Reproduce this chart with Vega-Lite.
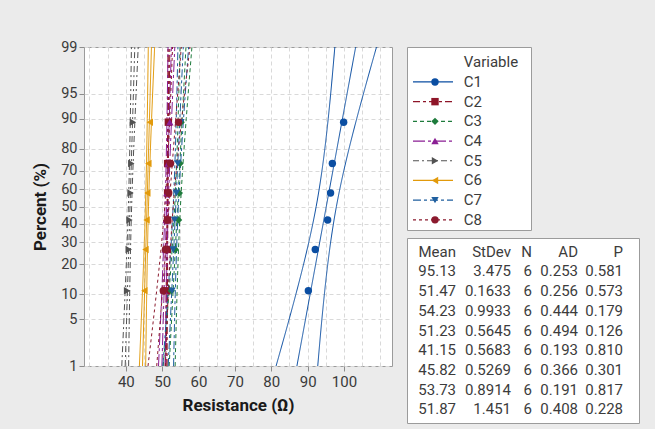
{
  "$schema": "https://vega.github.io/schema/vega-lite/v6.json",
  "background": "#EBEBEB",
  "autosize": {"type": "pad"},
  "padding": {"left": 31, "top": 38, "right": 16, "bottom": 7},
  "config": {
    "font": "Roboto",
    "view": {"stroke": "#9B9B9B", "fill": "white"},
    "axis": {
      "labelFont": "Roboto", "labelFontSize": 15, "labelColor": "#3A3A3A",
      "titleFont": "Roboto", "titleFontSize": 17, "titleFontWeight": "bold", "titleColor": "#1A1A1A",
      "tickColor": "#8C8C8C", "domain": false, "gridColor": "#D9D9D9", "gridDash": [4, 3],
      "labelOverlap": false, "labelFlush": false, "labelBound": false
    },
    "text": {"font": "Roboto", "fontSize": 15, "fill": "#3C3C3C"}
  },
  "datasets": {
    "points": [
      {"variable": "C1", "normal_score": -1.2298, "resistance": 90.2},
      {"variable": "C1", "normal_score": -0.626, "resistance": 92.1},
      {"variable": "C1", "normal_score": -0.1967, "resistance": 95.5},
      {"variable": "C1", "normal_score": 0.1967, "resistance": 96.3},
      {"variable": "C1", "normal_score": 0.626, "resistance": 96.8},
      {"variable": "C1", "normal_score": 1.2298, "resistance": 99.9},
      {"variable": "C2", "normal_score": -1.2298, "resistance": 51.2},
      {"variable": "C2", "normal_score": -0.626, "resistance": 51.4},
      {"variable": "C2", "normal_score": -0.1967, "resistance": 51.5},
      {"variable": "C2", "normal_score": 0.1967, "resistance": 51.5},
      {"variable": "C2", "normal_score": 0.626, "resistance": 51.5},
      {"variable": "C2", "normal_score": 1.2298, "resistance": 51.7},
      {"variable": "C3", "normal_score": -1.2298, "resistance": 52.5},
      {"variable": "C3", "normal_score": -0.626, "resistance": 53.6},
      {"variable": "C3", "normal_score": -0.1967, "resistance": 54.5},
      {"variable": "C3", "normal_score": 0.1967, "resistance": 54.7},
      {"variable": "C3", "normal_score": 0.626, "resistance": 54.9},
      {"variable": "C3", "normal_score": 1.2298, "resistance": 55.2},
      {"variable": "C4", "normal_score": -1.2298, "resistance": 50.5},
      {"variable": "C4", "normal_score": -0.626, "resistance": 50.8},
      {"variable": "C4", "normal_score": -0.1967, "resistance": 51.1},
      {"variable": "C4", "normal_score": 0.1967, "resistance": 51.3},
      {"variable": "C4", "normal_score": 0.626, "resistance": 51.6},
      {"variable": "C4", "normal_score": 1.2298, "resistance": 52.1},
      {"variable": "C5", "normal_score": -1.2298, "resistance": 40.35},
      {"variable": "C5", "normal_score": -0.626, "resistance": 40.8},
      {"variable": "C5", "normal_score": -0.1967, "resistance": 41.0},
      {"variable": "C5", "normal_score": 0.1967, "resistance": 41.3},
      {"variable": "C5", "normal_score": 0.626, "resistance": 41.5},
      {"variable": "C5", "normal_score": 1.2298, "resistance": 41.95},
      {"variable": "C6", "normal_score": -1.2298, "resistance": 45.1},
      {"variable": "C6", "normal_score": -0.626, "resistance": 45.4},
      {"variable": "C6", "normal_score": -0.1967, "resistance": 45.7},
      {"variable": "C6", "normal_score": 0.1967, "resistance": 45.9},
      {"variable": "C6", "normal_score": 0.626, "resistance": 46.2},
      {"variable": "C6", "normal_score": 1.2298, "resistance": 46.6},
      {"variable": "C7", "normal_score": -1.2298, "resistance": 52.7},
      {"variable": "C7", "normal_score": -0.626, "resistance": 53.0},
      {"variable": "C7", "normal_score": -0.1967, "resistance": 53.4},
      {"variable": "C7", "normal_score": 0.1967, "resistance": 53.9},
      {"variable": "C7", "normal_score": 0.626, "resistance": 54.3},
      {"variable": "C7", "normal_score": 1.2298, "resistance": 55.1},
      {"variable": "C8", "normal_score": -1.2298, "resistance": 50.3},
      {"variable": "C8", "normal_score": -0.626, "resistance": 50.9},
      {"variable": "C8", "normal_score": -0.1967, "resistance": 51.4},
      {"variable": "C8", "normal_score": 0.1967, "resistance": 51.8},
      {"variable": "C8", "normal_score": 0.626, "resistance": 52.3},
      {"variable": "C8", "normal_score": 1.2298, "resistance": 54.5}
    ],
    "curves": [
      {"variable": "C1", "curve": "lower", "normal_score": -2.3263, "resistance": 81.32},
      {"variable": "C1", "curve": "lower", "normal_score": -1.2816, "resistance": 86.76},
      {"variable": "C1", "curve": "lower", "normal_score": 0, "resistance": 92.35},
      {"variable": "C1", "curve": "lower", "normal_score": 1.2816, "resistance": 95.66},
      {"variable": "C1", "curve": "lower", "normal_score": 2.3263, "resistance": 97.48},
      {"variable": "C1", "curve": "fit", "normal_score": -2.3263, "resistance": 87.05},
      {"variable": "C1", "curve": "fit", "normal_score": 2.3263, "resistance": 103.21},
      {"variable": "C1", "curve": "upper", "normal_score": -2.3263, "resistance": 92.78},
      {"variable": "C1", "curve": "upper", "normal_score": -1.2816, "resistance": 94.6},
      {"variable": "C1", "curve": "upper", "normal_score": 0, "resistance": 97.91},
      {"variable": "C1", "curve": "upper", "normal_score": 1.2816, "resistance": 103.5},
      {"variable": "C1", "curve": "upper", "normal_score": 2.3263, "resistance": 108.94},
      {"variable": "C2", "curve": "lower", "normal_score": -2.3263, "resistance": 50.82},
      {"variable": "C2", "curve": "lower", "normal_score": -1.2816, "resistance": 51.08},
      {"variable": "C2", "curve": "lower", "normal_score": 0, "resistance": 51.34},
      {"variable": "C2", "curve": "lower", "normal_score": 1.2816, "resistance": 51.5},
      {"variable": "C2", "curve": "lower", "normal_score": 2.3263, "resistance": 51.58},
      {"variable": "C2", "curve": "fit", "normal_score": -2.3263, "resistance": 51.09},
      {"variable": "C2", "curve": "fit", "normal_score": 2.3263, "resistance": 51.85},
      {"variable": "C2", "curve": "upper", "normal_score": -2.3263, "resistance": 51.36},
      {"variable": "C2", "curve": "upper", "normal_score": -1.2816, "resistance": 51.44},
      {"variable": "C2", "curve": "upper", "normal_score": 0, "resistance": 51.6},
      {"variable": "C2", "curve": "upper", "normal_score": 1.2816, "resistance": 51.86},
      {"variable": "C2", "curve": "upper", "normal_score": 2.3263, "resistance": 52.12},
      {"variable": "C3", "curve": "lower", "normal_score": -2.3263, "resistance": 50.28},
      {"variable": "C3", "curve": "lower", "normal_score": -1.2816, "resistance": 51.84},
      {"variable": "C3", "curve": "lower", "normal_score": 0, "resistance": 53.44},
      {"variable": "C3", "curve": "lower", "normal_score": 1.2816, "resistance": 54.38},
      {"variable": "C3", "curve": "lower", "normal_score": 2.3263, "resistance": 54.9},
      {"variable": "C3", "curve": "fit", "normal_score": -2.3263, "resistance": 51.92},
      {"variable": "C3", "curve": "fit", "normal_score": 2.3263, "resistance": 56.54},
      {"variable": "C3", "curve": "upper", "normal_score": -2.3263, "resistance": 53.56},
      {"variable": "C3", "curve": "upper", "normal_score": -1.2816, "resistance": 54.08},
      {"variable": "C3", "curve": "upper", "normal_score": 0, "resistance": 55.02},
      {"variable": "C3", "curve": "upper", "normal_score": 1.2816, "resistance": 56.62},
      {"variable": "C3", "curve": "upper", "normal_score": 2.3263, "resistance": 58.18},
      {"variable": "C4", "curve": "lower", "normal_score": -2.3263, "resistance": 48.99},
      {"variable": "C4", "curve": "lower", "normal_score": -1.2816, "resistance": 49.87},
      {"variable": "C4", "curve": "lower", "normal_score": 0, "resistance": 50.78},
      {"variable": "C4", "curve": "lower", "normal_score": 1.2816, "resistance": 51.32},
      {"variable": "C4", "curve": "lower", "normal_score": 2.3263, "resistance": 51.61},
      {"variable": "C4", "curve": "fit", "normal_score": -2.3263, "resistance": 49.92},
      {"variable": "C4", "curve": "fit", "normal_score": 2.3263, "resistance": 52.54},
      {"variable": "C4", "curve": "upper", "normal_score": -2.3263, "resistance": 50.85},
      {"variable": "C4", "curve": "upper", "normal_score": -1.2816, "resistance": 51.14},
      {"variable": "C4", "curve": "upper", "normal_score": 0, "resistance": 51.68},
      {"variable": "C4", "curve": "upper", "normal_score": 1.2816, "resistance": 52.59},
      {"variable": "C4", "curve": "upper", "normal_score": 2.3263, "resistance": 53.47},
      {"variable": "C5", "curve": "lower", "normal_score": -2.3263, "resistance": 38.89},
      {"variable": "C5", "curve": "lower", "normal_score": -1.2816, "resistance": 39.78},
      {"variable": "C5", "curve": "lower", "normal_score": 0, "resistance": 40.7},
      {"variable": "C5", "curve": "lower", "normal_score": 1.2816, "resistance": 41.24},
      {"variable": "C5", "curve": "lower", "normal_score": 2.3263, "resistance": 41.54},
      {"variable": "C5", "curve": "fit", "normal_score": -2.3263, "resistance": 39.83},
      {"variable": "C5", "curve": "fit", "normal_score": 2.3263, "resistance": 42.47},
      {"variable": "C5", "curve": "upper", "normal_score": -2.3263, "resistance": 40.77},
      {"variable": "C5", "curve": "upper", "normal_score": -1.2816, "resistance": 41.06},
      {"variable": "C5", "curve": "upper", "normal_score": 0, "resistance": 41.6},
      {"variable": "C5", "curve": "upper", "normal_score": 1.2816, "resistance": 42.52},
      {"variable": "C5", "curve": "upper", "normal_score": 2.3263, "resistance": 43.41},
      {"variable": "C6", "curve": "lower", "normal_score": -2.3263, "resistance": 43.73},
      {"variable": "C6", "curve": "lower", "normal_score": -1.2816, "resistance": 44.55},
      {"variable": "C6", "curve": "lower", "normal_score": 0, "resistance": 45.4},
      {"variable": "C6", "curve": "lower", "normal_score": 1.2816, "resistance": 45.9},
      {"variable": "C6", "curve": "lower", "normal_score": 2.3263, "resistance": 46.18},
      {"variable": "C6", "curve": "fit", "normal_score": -2.3263, "resistance": 44.59},
      {"variable": "C6", "curve": "fit", "normal_score": 2.3263, "resistance": 47.05},
      {"variable": "C6", "curve": "upper", "normal_score": -2.3263, "resistance": 45.46},
      {"variable": "C6", "curve": "upper", "normal_score": -1.2816, "resistance": 45.74},
      {"variable": "C6", "curve": "upper", "normal_score": 0, "resistance": 46.24},
      {"variable": "C6", "curve": "upper", "normal_score": 1.2816, "resistance": 47.09},
      {"variable": "C6", "curve": "upper", "normal_score": 2.3263, "resistance": 47.92},
      {"variable": "C7", "curve": "lower", "normal_score": -2.3263, "resistance": 50.19},
      {"variable": "C7", "curve": "lower", "normal_score": -1.2816, "resistance": 51.58},
      {"variable": "C7", "curve": "lower", "normal_score": 0, "resistance": 53.02},
      {"variable": "C7", "curve": "lower", "normal_score": 1.2816, "resistance": 53.87},
      {"variable": "C7", "curve": "lower", "normal_score": 2.3263, "resistance": 54.33},
      {"variable": "C7", "curve": "fit", "normal_score": -2.3263, "resistance": 51.66},
      {"variable": "C7", "curve": "fit", "normal_score": 2.3263, "resistance": 55.8},
      {"variable": "C7", "curve": "upper", "normal_score": -2.3263, "resistance": 53.13},
      {"variable": "C7", "curve": "upper", "normal_score": -1.2816, "resistance": 53.59},
      {"variable": "C7", "curve": "upper", "normal_score": 0, "resistance": 54.44},
      {"variable": "C7", "curve": "upper", "normal_score": 1.2816, "resistance": 55.88},
      {"variable": "C7", "curve": "upper", "normal_score": 2.3263, "resistance": 57.27},
      {"variable": "C8", "curve": "lower", "normal_score": -2.3263, "resistance": 46.1},
      {"variable": "C8", "curve": "lower", "normal_score": -1.2816, "resistance": 48.37},
      {"variable": "C8", "curve": "lower", "normal_score": 0, "resistance": 50.71},
      {"variable": "C8", "curve": "lower", "normal_score": 1.2816, "resistance": 52.09},
      {"variable": "C8", "curve": "lower", "normal_score": 2.3263, "resistance": 52.85},
      {"variable": "C8", "curve": "fit", "normal_score": -2.3263, "resistance": 48.5},
      {"variable": "C8", "curve": "fit", "normal_score": 2.3263, "resistance": 55.25},
      {"variable": "C8", "curve": "upper", "normal_score": -2.3263, "resistance": 50.89},
      {"variable": "C8", "curve": "upper", "normal_score": -1.2816, "resistance": 51.65},
      {"variable": "C8", "curve": "upper", "normal_score": 0, "resistance": 53.03},
      {"variable": "C8", "curve": "upper", "normal_score": 1.2816, "resistance": 55.37},
      {"variable": "C8", "curve": "upper", "normal_score": 2.3263, "resistance": 57.64}
    ],
    "stats": [
      {"variable": "C1", "Mean": 95.13, "StDev": 3.475, "N": 6, "AD": 0.253, "P": 0.581},
      {"variable": "C2", "Mean": 51.47, "StDev": 0.1633, "N": 6, "AD": 0.256, "P": 0.573},
      {"variable": "C3", "Mean": 54.23, "StDev": 0.9933, "N": 6, "AD": 0.444, "P": 0.179},
      {"variable": "C4", "Mean": 51.23, "StDev": 0.5645, "N": 6, "AD": 0.494, "P": 0.126},
      {"variable": "C5", "Mean": 41.15, "StDev": 0.5683, "N": 6, "AD": 0.193, "P": 0.81},
      {"variable": "C6", "Mean": 45.82, "StDev": 0.5269, "N": 6, "AD": 0.366, "P": 0.301},
      {"variable": "C7", "Mean": 53.73, "StDev": 0.8914, "N": 6, "AD": 0.191, "P": 0.817},
      {"variable": "C8", "Mean": 51.87, "StDev": 1.451, "N": 6, "AD": 0.408, "P": 0.228}
    ]
  },
  "bounds": "flush",
  "spacing": 15,
  "resolve": {"scale": {"x": "independent", "y": "independent", "color": "independent", "shape": "independent", "strokeDash": "independent"}},
  "hconcat": [
    {
      "width": 308,
      "height": 319,
      "layer": [
        {
          "data": {"name": "curves"},
          "mark": {"type": "line", "strokeWidth": 1, "interpolate": "natural", "clip": true},
          "encoding": {
            "x": {
              "field": "resistance", "type": "quantitative",
              "scale": {"domain": [28.5, 113.2], "nice": false, "zero": false},
              "title": "Resistance (Ω)",
              "axis": {
                "values": [30, 35, 40, 45, 50, 55, 60, 65, 70, 75, 80, 85, 90, 95, 100, 105, 110],
                "tickCount": 40,
                "labelExpr": "(datum.value % 10 == 0 && datum.value >= 40 && datum.value <= 100) ? datum.label : ''",
                "tickOpacity": {"condition": {"test": "datum.value % 10 == 0 && datum.value >= 40 && datum.value <= 100", "value": 1}, "value": 0},
                "tickSize": 5, "labelPadding": 3, "titlePadding": 8, "grid": true, "labelFlush": false, "labelOverlap": false
              }
            },
            "y": {
              "field": "normal_score", "type": "quantitative",
              "scale": {"domain": [-2.3263, 2.3263], "nice": false, "zero": false},
              "title": "Percent (%)",
              "axis": {
                "values": [-2.3263, -1.6449, -1.2816, -0.8416, -0.5244, -0.2533, 0, 0.2533, 0.5244, 0.8416, 1.2816, 1.6449, 2.3263],
                "tickCount": 40,
                "labelExpr": "format(cumulativeNormal(datum.value) * 100, '.0f')",
                "labelFontSize": 14.5,
                "tickSize": 5, "labelPadding": 2, "titlePadding": 11, "grid": true, "labelOverlap": false, "labelFlush": false
              }
            },
            "color": {
              "field": "variable", "type": "nominal", "legend": null,
              "scale": {"domain": ["C1", "C2", "C3", "C4", "C5", "C6", "C7", "C8"], "range": ["#0B4EA2", "#8E1528", "#1E7B3C", "#8A1E94", "#525252", "#E29A0B", "#1F5F9F", "#8B1A2E"]}
            },
            "strokeDash": {
              "field": "variable", "type": "nominal", "legend": null,
              "scale": {"domain": ["C1", "C2", "C3", "C4", "C5", "C6", "C7", "C8"], "range": [[1, 0], [7, 3, 3, 3], [4, 3], [12, 3, 3, 3], [6, 3, 2, 3], [1, 0], [8, 3, 3, 3], [3, 3]]}
            },
            "detail": {"field": "curve"},
            "order": {"field": "normal_score", "type": "quantitative"}
          }
        },
        {
          "data": {"name": "points"},
          "mark": {"type": "point", "filled": true, "size": 55, "opacity": 1},
          "encoding": {
            "x": {"field": "resistance", "type": "quantitative"},
            "y": {"field": "normal_score", "type": "quantitative"},
            "color": {"field": "variable", "type": "nominal", "legend": null},
            "shape": {
              "field": "variable", "type": "nominal", "legend": null,
              "scale": {"domain": ["C1", "C2", "C3", "C4", "C5", "C6", "C7", "C8"], "range": ["circle", "square", "diamond", "triangle-up", "triangle-right", "triangle-left", "triangle-down", "circle"]}
            }
          }
        }
      ]
    },
    {
      "bounds": "flush",
      "spacing": 8,
      "resolve": {"scale": {"x": "independent", "y": "independent", "color": "independent", "shape": "independent", "strokeDash": "independent"}},
      "vconcat": [
        {
          "width": 124,
          "height": 183,
          "data": {"name": "stats"},
          "layer": [
            {
              "mark": {"type": "rule", "strokeWidth": 1.2},
              "encoding": {
                "x": {"datum": 0, "type": "quantitative", "scale": {"domain": [-0.15, 2.95], "nice": false, "zero": false}, "axis": null},
                "x2": {"datum": 1},
                "y": {"field": "variable", "type": "nominal", "axis": null,
                      "scale": {"type": "point", "domain": ["Variable", "C1", "C2", "C3", "C4", "C5", "C6", "C7", "C8"], "padding": 0.645, "align": 0.6}},
                "color": {
                  "field": "variable", "type": "nominal", "legend": null,
                  "scale": {"domain": ["C1", "C2", "C3", "C4", "C5", "C6", "C7", "C8"], "range": ["#0B4EA2", "#8E1528", "#1E7B3C", "#8A1E94", "#525252", "#E29A0B", "#1F5F9F", "#8B1A2E"]}
                },
                "strokeDash": {
                  "field": "variable", "type": "nominal", "legend": null,
                  "scale": {"domain": ["C1", "C2", "C3", "C4", "C5", "C6", "C7", "C8"], "range": [[1, 0], [7, 3, 3, 3], [4, 3], [12, 3, 3, 3], [6, 3, 2, 3], [1, 0], [8, 3, 3, 3], [3, 3]]}
                }
              }
            },
            {
              "mark": {"type": "point", "filled": true, "size": 55, "opacity": 1},
              "encoding": {
                "x": {"datum": 0.55, "type": "quantitative"},
                "y": {"field": "variable", "type": "nominal"},
                "color": {"field": "variable", "type": "nominal", "legend": null},
                "shape": {
                  "field": "variable", "type": "nominal", "legend": null,
                  "scale": {"domain": ["C1", "C2", "C3", "C4", "C5", "C6", "C7", "C8"], "range": ["circle", "square", "diamond", "triangle-up", "triangle-right", "triangle-left", "triangle-down", "circle"]}
                }
              }
            },
            {
              "mark": {"type": "text", "align": "left", "baseline": "middle"},
              "encoding": {
                "x": {"datum": 1.27, "type": "quantitative"},
                "y": {"field": "variable", "type": "nominal"},
                "text": {"field": "variable"}
              }
            },
            {
              "data": {"values": [{"title": "Variable"}]},
              "mark": {"type": "text", "align": "left", "baseline": "middle"},
              "encoding": {
                "x": {"datum": 1.27, "type": "quantitative"},
                "y": {"datum": "Variable", "type": "nominal"},
                "text": {"field": "title"}
              }
            }
          ]
        },
        {
          "width": 232,
          "height": 185,
          "data": {"name": "stats"},
          "encoding": {
            "y": {"field": "variable", "type": "nominal", "axis": null,
                  "scale": {"type": "point", "domain": ["header", "C1", "C2", "C3", "C4", "C5", "C6", "C7", "C8"], "padding": 0.7}}
          },
          "layer": [
            {"mark": {"type": "text", "align": "right", "baseline": "middle"},
             "encoding": {"x": {"datum": 49, "type": "quantitative", "scale": {"domain": [0, 232], "nice": false, "zero": false}, "axis": null},
                          "text": {"field": "Mean", "format": ".2f"}}},
            {"mark": {"type": "text", "align": "right", "baseline": "middle"},
             "encoding": {"x": {"datum": 104, "type": "quantitative"}, "text": {"field": "StDev", "format": ".4r"}}},
            {"mark": {"type": "text", "align": "right", "baseline": "middle"},
             "encoding": {"x": {"datum": 125, "type": "quantitative"}, "text": {"field": "N", "format": "d"}}},
            {"mark": {"type": "text", "align": "right", "baseline": "middle"},
             "encoding": {"x": {"datum": 171, "type": "quantitative"}, "text": {"field": "AD", "format": ".3f"}}},
            {"mark": {"type": "text", "align": "right", "baseline": "middle"},
             "encoding": {"x": {"datum": 216, "type": "quantitative"}, "text": {"field": "P", "format": ".3f"}}},
            {"data": {"values": [{"heading": "Mean"}]}, "mark": {"type": "text", "align": "right", "baseline": "middle"},
             "encoding": {"x": {"datum": 49, "type": "quantitative"}, "y": {"datum": "header", "type": "nominal"}, "text": {"field": "heading"}}},
            {"data": {"values": [{"heading": "StDev"}]}, "mark": {"type": "text", "align": "right", "baseline": "middle"},
             "encoding": {"x": {"datum": 104, "type": "quantitative"}, "y": {"datum": "header", "type": "nominal"}, "text": {"field": "heading"}}},
            {"data": {"values": [{"heading": "N"}]}, "mark": {"type": "text", "align": "right", "baseline": "middle"},
             "encoding": {"x": {"datum": 125, "type": "quantitative"}, "y": {"datum": "header", "type": "nominal"}, "text": {"field": "heading"}}},
            {"data": {"values": [{"heading": "AD"}]}, "mark": {"type": "text", "align": "right", "baseline": "middle"},
             "encoding": {"x": {"datum": 171, "type": "quantitative"}, "y": {"datum": "header", "type": "nominal"}, "text": {"field": "heading"}}},
            {"data": {"values": [{"heading": "P"}]}, "mark": {"type": "text", "align": "right", "baseline": "middle"},
             "encoding": {"x": {"datum": 216, "type": "quantitative"}, "y": {"datum": "header", "type": "nominal"}, "text": {"field": "heading"}}}
          ]
        }
      ]
    }
  ]
}
